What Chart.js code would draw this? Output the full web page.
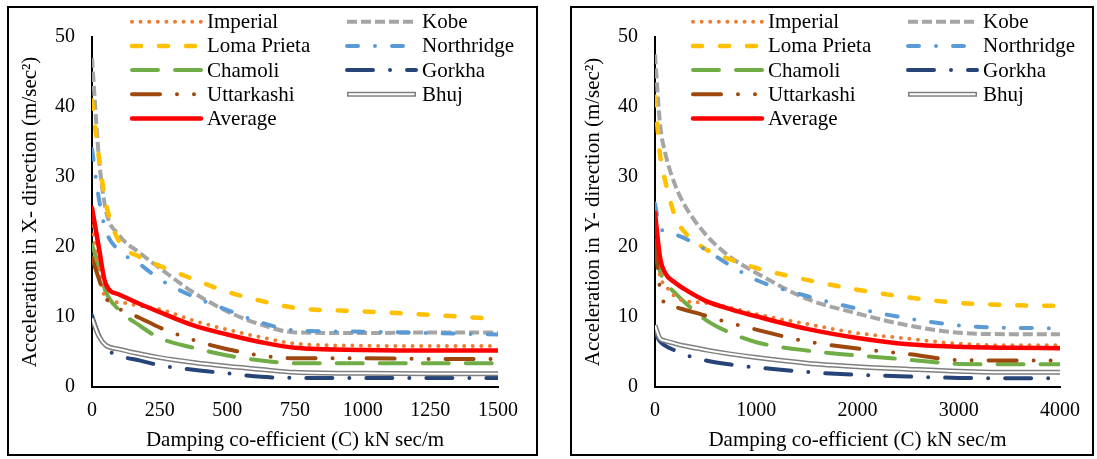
<!DOCTYPE html>
<html>
<head>
<meta charset="utf-8">
<script src="https://cdn.jsdelivr.net/npm/chart.js@4.4.1/dist/chart.umd.min.js"></script>
<style>
  html, body { margin: 0; padding: 0; background: #fff; }
  body { width: 1097px; height: 459px; position: relative; overflow: hidden; }
  .panel { position: absolute; top: 6px; height: 446px; border: 2px solid #000; background: #fff; }
  #boxX { left: 7px; width: 527px; }
  #boxY { left: 570px; width: 520px; }
  canvas { display: block; }
</style>
</head>
<body>
<div class="panel" id="boxX"><canvas id="chartX" width="527" height="446"></canvas></div>
<div class="panel" id="boxY"><canvas id="chartY" width="520" height="446"></canvas></div>
<script>
// Damping coefficient values (kN sec/m) for the X-direction runs
const dampX = [0, 25, 50, 100, 175, 250, 375, 500, 625, 750, 1000, 1250, 1500];
// Peak acceleration in X direction (m/sec^2)
const imperialX   = [23.0, 17.5, 12.6, 12.1, 11.6, 11.1, 9.5, 8.2, 7.1, 6.2, 5.9, 5.85, 5.85];
const kobeX       = [47.0, 33.0, 25.5, 21.7, 19.2, 17.0, 13.5, 10.8, 8.9, 7.8, 7.7, 7.8, 7.8];
const lomaPrietaX = [41.0, 33.0, 26.5, 20.8, 18.6, 17.3, 15.4, 13.6, 12.3, 11.3, 10.8, 10.3, 9.7];
const northridgeX = [34.0, 27.0, 22.5, 19.5, 17.6, 15.4, 12.9, 11.0, 9.2, 8.1, 7.9, 7.7, 7.5];
const chamoliX    = [20.3, 17.3, 13.7, 11.0, 8.8, 7.0, 5.6, 4.5, 3.8, 3.4, 3.4, 3.4, 3.4];
const gorkhaX     = [10.2, 7.5, 5.6, 4.5, 3.8, 3.1, 2.45, 1.95, 1.45, 1.3, 1.3, 1.3, 1.3];
const uttarkashiX = [18.5, 15.5, 12.8, 11.2, 9.9, 8.5, 6.7, 5.4, 4.5, 4.1, 4.1, 4.0, 4.0];
const bhujX       = [9.8, 7.3, 6.0, 5.4, 4.75, 4.2, 3.5, 2.95, 2.5, 2.1, 1.95, 1.9, 1.9];
const averageX    = [25.6, 20.0, 14.8, 13.2, 11.9, 10.7, 8.8, 7.5, 6.4, 5.6, 5.3, 5.2, 5.2];

// Damping coefficient values (kN sec/m) for the Y-direction runs
const dampY = [0, 50, 100, 200, 300, 500, 750, 1000, 1500, 2000, 2500, 3000, 3500, 4000];
// Peak acceleration in Y direction (m/sec^2)
const imperialY   = [21.0, 15.8, 14.6, 12.9, 12.3, 12.0, 11.3, 10.4, 9.0, 7.7, 6.9, 6.2, 5.95, 5.95];
const kobeY       = [47.5, 37.5, 33.5, 28.8, 25.8, 21.8, 18.5, 16.3, 12.6, 10.5, 8.8, 7.75, 7.55, 7.55];
const lomaPrietaY = [41.5, 33.2, 29.5, 24.3, 22.0, 19.7, 18.2, 17.0, 15.3, 13.9, 12.8, 12.0, 11.7, 11.6];
const northridgeY = [26.2, 22.7, 22.3, 21.8, 21.2, 19.6, 17.3, 15.3, 13.0, 11.2, 9.8, 8.8, 8.45, 8.4];
const chamoliY    = [19.5, 16.5, 15.0, 13.4, 12.0, 9.6, 7.7, 6.4, 5.2, 4.5, 3.9, 3.3, 3.25, 3.25];
const gorkhaY     = [7.7, 6.5, 5.9, 5.2, 4.6, 3.8, 3.2, 2.8, 2.15, 1.75, 1.5, 1.3, 1.25, 1.25];
const uttarkashiY = [21.0, 14.0, 11.9, 11.4, 11.0, 10.2, 9.1, 8.2, 6.5, 5.5, 4.7, 3.85, 3.8, 3.8];
const bhujY       = [8.8, 6.9, 6.6, 6.2, 5.85, 5.3, 4.7, 4.2, 3.4, 2.9, 2.55, 2.25, 2.1, 2.1];
const averageY    = [24.9, 18.5, 16.3, 14.9, 13.9, 12.3, 11.1, 10.1, 8.3, 7.0, 6.1, 5.75, 5.6, 5.55];

// Axis ticks
const accelTicks = [0, 10, 20, 30, 40, 50];
const dampTicksX = [0, 250, 500, 750, 1000, 1250, 1500];
const dampTicksY = [0, 1000, 2000, 3000, 4000];

// Legend reading order (two columns)
const legendOrder = ['Imperial', 'Kobe', 'Loma Prieta', 'Northridge', 'Chamoli', 'Gorkha', 'Uttarkashi', 'Bhuj', 'Average'];

const FONT = "'Liberation Serif', 'Times New Roman', Times, serif";

// Line styles for each record
const styles = {
  'Imperial':    { color: '#ED7D31', width: 4,   dash: [0, 8.6],           cap: 'round', order: 5 },
  'Kobe':        { color: '#A5A5A5', width: 4,   dash: [10, 4],            cap: 'butt',  order: 9 },
  'Loma Prieta': { color: '#FFC000', width: 4.5, dash: [9, 18],            cap: 'round', order: 8 },
  'Northridge':  { color: '#5B9BD5', width: 4,   dash: [11, 17, 0, 17],    cap: 'round', order: 7 },
  'Chamoli':     { color: '#70AD47', width: 4,   dash: [26, 17],           cap: 'round', order: 6 },
  'Gorkha':      { color: '#264478', width: 4,   dash: [26, 17, 0, 17],    cap: 'round', order: 4 },
  'Uttarkashi':  { color: '#9E480E', width: 4,   dash: [28, 17, 0, 17, 0, 17], cap: 'round', order: 3 },
  'Bhuj':        { color: '#7F7F7F', width: 5,   dash: [],                 cap: 'butt',  order: 2 },
  'Average':     { color: '#FF0000', width: 4.5, dash: [],                 cap: 'round', order: 0 }
};

function pts(xs, ys) {
  return xs.map((x, i) => ({ x: x, y: ys[i] }));
}

function makeDatasets(xs, series) {
  const sets = [];
  Object.keys(series).forEach(label => {
    const s = styles[label];
    sets.push({
      label: label,
      data: pts(xs, series[label]),
      borderColor: s.color,
      borderWidth: s.width,
      borderDash: s.dash,
      borderCapStyle: s.cap,
      borderJoinStyle: 'round',
      cubicInterpolationMode: 'monotone',
      pointRadius: 0,
      fill: false,
      order: s.order,
      inner: label === 'Bhuj' ? { color: '#FFFFFF', width: 2 } : null
    });
    if (label === 'Bhuj') {
      // white core that turns the grey stroke into a double line
      sets.push({
        label: 'Bhuj core',
        data: pts(xs, series[label]),
        borderColor: '#FFFFFF',
        borderWidth: 2,
        cubicInterpolationMode: 'monotone',
        pointRadius: 0,
        fill: false,
        order: 1
      });
    }
  });
  return sets;
}

// Two-column legend drawn from each dataset's own stroke settings
const gridLegend = {
  id: 'gridLegend',
  afterDatasetsDraw(chart, args, opts) {
    const ctx = chart.ctx;
    ctx.save();
    ctx.font = opts.font;
    ctx.textBaseline = 'middle';
    ctx.textAlign = 'left';
    legendOrder.forEach((label, i) => {
      const ds = chart.data.datasets.find(d => d.label === label);
      if (!ds) return;
      const col = i % 2;
      const row = Math.floor(i / 2);
      const x0 = opts.x[col];
      const y = opts.y0 + row * opts.rowH;
      const x1 = x0 + opts.lineLen;
      ctx.save();
      ctx.strokeStyle = ds.borderColor;
      ctx.lineWidth = ds.borderWidth;
      ctx.setLineDash(ds.borderDash || []);
      ctx.lineCap = ds.borderCapStyle || 'butt';
      ctx.beginPath();
      ctx.moveTo(x0, y);
      ctx.lineTo(x1, y);
      ctx.stroke();
      if (ds.inner) {
        ctx.strokeStyle = ds.inner.color;
        ctx.lineWidth = ds.inner.width;
        ctx.setLineDash([]);
        ctx.beginPath();
        ctx.moveTo(x0 + 1.5, y);
        ctx.lineTo(x1 - 1.5, y);
        ctx.stroke();
      }
      ctx.restore();
      ctx.fillStyle = '#000';
      ctx.fillText(label, x1 + opts.gap, y + 1);
    });
    ctx.restore();
  }
};

function buildChart(canvasId, xs, series, xMax, xTickList, yTitle, legendX) {
  const ctx = document.getElementById(canvasId).getContext('2d');
  return new Chart(ctx, {
    type: 'line',
    data: { datasets: makeDatasets(xs, series) },
    plugins: [gridLegend],
    options: {
      responsive: false,
      animation: false,
      devicePixelRatio: 1,
      layout: { padding: { top: 17, right: legendX.padRight, bottom: 0, left: 0 } },
      plugins: {
        legend: { display: false },
        tooltip: { enabled: false },
        gridLegend: {
          font: '21px ' + FONT,
          x: legendX.cols,
          y0: 13.7,
          rowH: 24.2,
          lineLen: 69,
          gap: 6
        }
      },
      scales: {
        x: {
          type: 'linear',
          min: 0,
          max: xMax,
          afterBuildTicks: s => { s.ticks = xTickList.map(v => ({ value: v })); },
          afterFit: s => { s.height = 67; },
          grid: { display: false, drawTicks: false },
          border: { display: true, color: '#000', width: 2 },
          ticks: {
            autoSkip: false,
            maxRotation: 0,
            padding: 12,
            color: '#000',
            font: { family: FONT, size: 20 },
            callback: v => String(v)
          },
          title: {
            display: true,
            text: 'Damping co-efficient (C) kN sec/m',
            color: '#000',
            font: { family: FONT, size: 21 },
            padding: { top: 0, bottom: 1.4 }
          }
        },
        y: {
          type: 'linear',
          min: 0,
          max: 50,
          afterBuildTicks: s => { s.ticks = accelTicks.map(v => ({ value: v })); },
          afterFit: s => { s.width = 83; },
          grid: { display: false, drawTicks: false },
          border: { display: true, color: '#000', width: 2 },
          ticks: {
            padding: 17,
            color: '#000',
            font: { family: FONT, size: 20 },
            callback: v => String(v)
          },
          title: {
            display: true,
            text: yTitle,
            color: '#000',
            font: { family: FONT, size: 21 },
            padding: { top: 8.4, bottom: 0 }
          }
        }
      }
    }
  });
}

buildChart('chartX', dampX, {
  'Imperial': imperialX,
  'Kobe': kobeX,
  'Loma Prieta': lomaPrietaX,
  'Northridge': northridgeX,
  'Chamoli': chamoliX,
  'Gorkha': gorkhaX,
  'Uttarkashi': uttarkashiX,
  'Bhuj': bhujX,
  'Average': averageX
}, 1500, dampTicksX, 'Acceleration in X- direction (m/sec²)', { cols: [123, 338], padRight: 38 });

buildChart('chartY', dampY, {
  'Imperial': imperialY,
  'Kobe': kobeY,
  'Loma Prieta': lomaPrietaY,
  'Northridge': northridgeY,
  'Chamoli': chamoliY,
  'Gorkha': gorkhaY,
  'Uttarkashi': uttarkashiY,
  'Bhuj': bhujY,
  'Average': averageY
}, 4000, dampTicksY, 'Acceleration in Y- direction (m/sec²)', { cols: [121, 336], padRight: 32 });
</script>
</body>
</html>
